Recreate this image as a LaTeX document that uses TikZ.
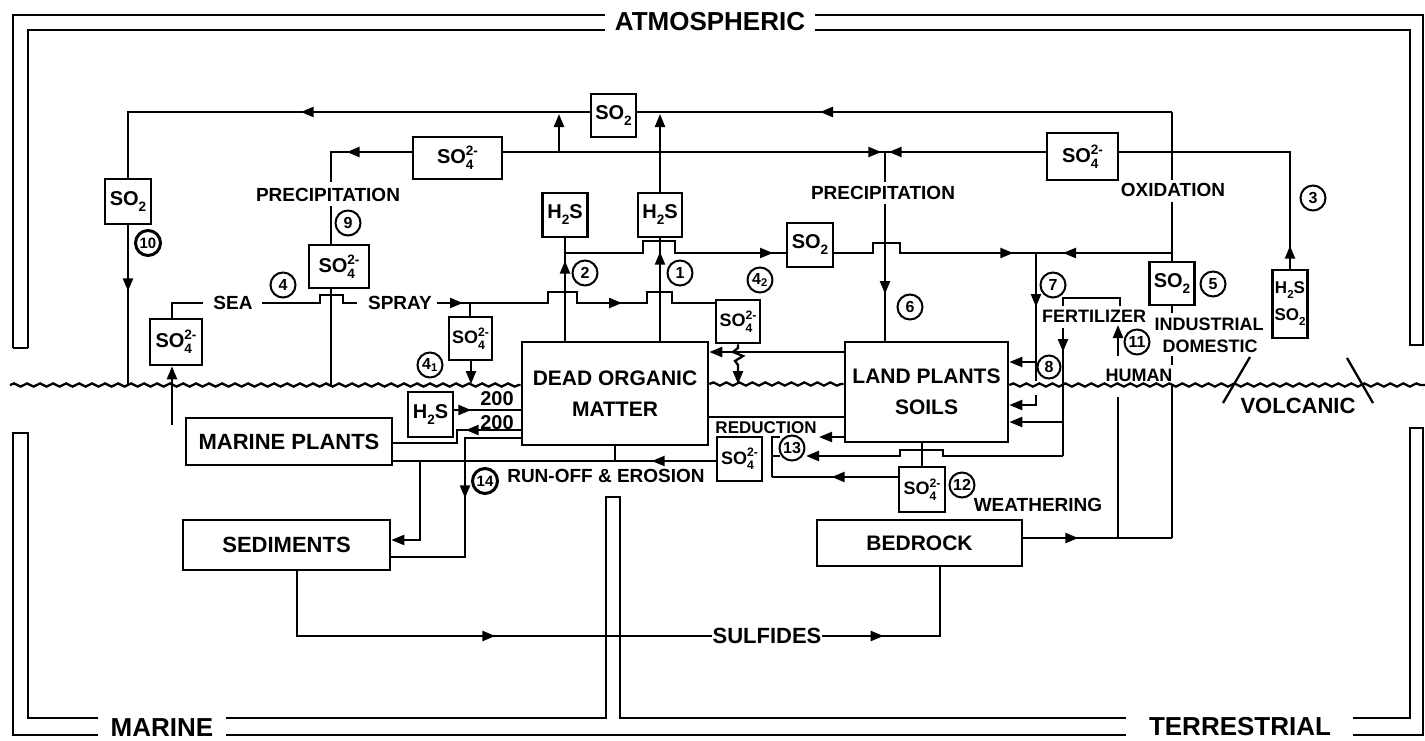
\documentclass[tikz,border=0pt]{standalone}
\usepackage{fontspec}
\setmainfont{Liberation Sans}
\usetikzlibrary{arrows.meta,decorations.pathmorphing,decorations.markings}
\newcommand\fsz[1]{\fontsize{#1}{#1}\selectfont}
\makeatletter
\newcommand\scr[1]{{\fontsize{\fpeval{0.68*\f@size}}{0}\selectfont #1}}
\makeatother
\newcommand\sulf{SO\raisebox{-0.3em}{\rlap{\scr{4}}}\raisebox{0.42em}{\scr{2-}}}
\newcommand\sodi{SO\raisebox{-0.3em}{\scr{2}}}
\newcommand\hys{H\raisebox{-0.3em}{\scr{2}}S}
\newcommand\zb[1]{\makebox[0pt]{#1}}
\tikzset{
  flow/.style={line width=2.3pt},
  tipend/.style={-{Triangle[length=13pt,width=10pt]}},
  ar/.style={postaction={decorate},decoration={markings,mark=at position #1 with {\arrow{Triangle[length=13pt,width=10pt]}}}},
  sz/.style 2 args={minimum width=#1pt,minimum height=#2pt},
  box/.style={draw,line width=2.6pt,inner sep=0pt,align=center,font=\bfseries\fsz{20}},
  big/.style={draw,line width=2.6pt,inner sep=0pt,align=center,font={\bfseries\fontsize{21}{31}\selectfont}},
  lab/.style={inner sep=0pt,font=\bfseries\fsz{19}},
  frlab/.style={inner sep=0pt,font=\bfseries\fsz{26}},
  num/.style={circle,draw,line width=2pt,minimum size=25pt,inner sep=0pt,font=\bfseries\fsz{16}},
  wave/.style={line width=2.3pt,decorate,decoration={snake,amplitude=1.6pt,segment length=13pt}},
  frm/.style={line width=2.3pt},
}
\begin{document}
\begin{tikzpicture}[x=1pt,y=-1pt]
\useasboundingbox (0,0) rectangle (1425,740);

% ---------------- frames ----------------
\node[frlab] (atm) at (710,22) {ATMOSPHERIC};
\node[frlab] (mar) at (162,728) {MARINE};
\node[frlab] (ter) at (1240,727) {TERRESTRIAL};
\draw[frm] (13,348) -- (13,15) -- (605,15);
\draw[frm] (28,348) -- (28,30) -- (605,30);
\draw[frm] (13,348) -- (28,348);
\draw[frm] (815,15) -- (1423,15) -- (1423,345) -- (1410,345) -- (1410,30) -- (815,30);
\draw[frm] (98,735) -- (13,735) -- (13,433) -- (28,433) -- (28,718) -- (98,718);
\draw[frm] (226,718) -- (606,718) -- (606,497) -- (620,497) -- (620,718) -- (1126,718);
\draw[frm] (226,735) -- (1126,735);
\draw[frm] (1353,718) -- (1410,718) -- (1410,428) -- (1423,428) -- (1423,735) -- (1353,735);

% ---------------- big boxes ----------------
\node[big,sz={186}{103}] (dom) at (615,393.5) {DEAD ORGANIC\\MATTER};
\node[big,sz={163}{100}] (land) at (926.5,392) {LAND PLANTS\\SOILS};
\node[big,sz={206}{47},font=\bfseries\fsz{22}] (mp) at (289,441.5) {MARINE PLANTS};
\node[big,sz={207}{50},font=\bfseries\fsz{22}] (sed) at (286.5,545) {SEDIMENTS};
\node[big,sz={205}{46}] (bed) at (919.5,543) {BEDROCK};

% ---------------- small boxes ----------------
\node[box,sz={45}{43}] (so2t) at (613.5,115.5) {\zb{\sodi}};
\node[box,sz={89}{42}] (s4L) at (457.5,158) {\zb{\sulf}};
\node[box,sz={71}{47}] (s4R) at (1082.5,156.5) {\zb{\sulf}};
\node[box,sz={46}{45}] (so2a) at (128,201.5) {\zb{\sodi}};
\node[box,sz={60}{43}] (s4p) at (339,266.5) {\zb{\sulf}};
\node[box,sz={45}{44}] (h2sb) at (565,215) {\zb{\hys}};
\node[box,sz={44}{44}] (h2sa) at (660,215) {\zb{\hys}};
\node[box,sz={46}{44}] (so2m) at (810,245) {\zb{\sodi}};
\node[box,sz={45}{43}] (so2i) at (1172,283.5) {\zb{\sodi}};
\node[box,sz={35}{68},font={\bfseries\fontsize{17}{27}\selectfont}] (volc) at (1290,304) {\zb{\hys}\\\zb{\sodi}};
\node[box,sz={52}{46}] (s4sea) at (176,342) {\zb{\sulf}};
\node[box,sz={43}{43},font=\bfseries\fsz{18}] (s4a) at (470.5,338.5) {\zb{\sulf}};
\node[box,sz={44}{43},font=\bfseries\fsz{18}] (s4b) at (738,321.5) {\zb{\sulf}};
\node[box,sz={45}{44},font=\bfseries\fsz{18}] (s4r) at (739.5,459) {\zb{\sulf}};
\node[box,sz={46}{45},font=\bfseries\fsz{18}] (s4w) at (922,489.5) {\zb{\sulf}};
\node[box,sz={45}{45}] (h2sm) at (430.5,414.5) {\zb{\hys}};

% ---------------- text labels ----------------
\node[lab] (precL) at (328,195) {PRECIPITATION};
\node[lab] (precR) at (883,193) {PRECIPITATION};
\node[lab] (oxi) at (1173,190) {OXIDATION};
\node[lab] (sea) at (233,303) {SEA};
\node[lab] (spray) at (400,303) {SPRAY};
\node[lab,font=\bfseries\fsz{18}] (fert) at (1094,316) {FERTILIZER};
\node[lab,font=\bfseries\fsz{18}] (indu) at (1209,324) {INDUSTRIAL};
\node[lab,font=\bfseries\fsz{18}] (dome) at (1210,346) {DOMESTIC};
\node[lab,font=\bfseries\fsz{18}] (hum) at (1139,375) {HUMAN};
\node[lab,font=\bfseries\fsz{22}] (volct) at (1298,406) {VOLCANIC};
\node[lab,font=\bfseries\fsz{17}] (redu) at (766,428) {REDUCTION};
\node[lab] (runoff) at (606,476) {RUN-OFF \& EROSION};
\node[lab] (weath) at (1038,505) {WEATHERING};
\node[lab,font=\bfseries\fsz{20}] (t200a) at (497,399) {200};
\node[lab,font=\bfseries\fsz{20}] (t200b) at (497,423) {200};
\node[lab,font=\bfseries\fsz{22}] (sulf) at (767,636) {SULFIDES};

% ---------------- circled numbers ----------------
\node[num] (n1) at (680,273) {1};
\node[num] (n2) at (585,273) {2};
\node[num] (n3) at (1313,198) {3};
\node[num] (n4) at (283,285) {4};
\node[num] (n41) at (430,365) {4\textsubscript{1}};
\node[num] (n42) at (760,280) {4\textsubscript{2}};
\node[num] (n5) at (1213,284) {5};
\node[num] (n6) at (910,307) {6};
\node[num] (n7) at (1053,285) {7};
\node[num,minimum size=23pt] (n8) at (1049,367) {8};
\node[num] (n9) at (348,223) {9};
\node[num,line width=3pt,font=\bfseries\fsz{15}] (n10) at (148,243) {10};
\node[num] (n11) at (1137,342) {11};
\node[num] (n12) at (962,485) {12};
\node[num] (n13) at (792,448) {13};
\node[num,line width=3pt,font=\bfseries\fsz{15}] (n14) at (485,481) {14};

% ---------------- surface ----------------
\draw[wave] (10,385) -- (dom.west |- 0,385);
\draw[wave] (dom.east |- 0,384) -- (land.west |- 0,384);
\draw[wave] (land.east |- 0,385) -- (1425,385);

% ---------------- helper coordinates ----------------
\coordinate (j1172t) at (1172,112);
\coordinate (j128t) at (128,112);
\coordinate (j559) at (559,152);
\coordinate (j559t) at (559,114);
\coordinate (j330) at (331,152);
\coordinate (j885) at (885,152);
\coordinate (j1290) at (1290,152);
\coordinate (j565m) at (565,253);
\coordinate (j1036) at (1036,253);
\coordinate (j1172m) at (1172,253);
\coordinate (j470) at (470,303);

% ---------------- atmospheric SO2 line ----------------
\draw[flow,ar=352pt] (j1172t) -- (so2t.east |- j1172t);
\draw[flow,ar=289pt] (so2t.west |- j1172t) -- (j128t) -- (so2a.north);
\draw[flow,ar=66pt] (so2a.south) -- (128,385);
\draw[flow] (j1172t) -- (1172,180);
\draw[flow] (1172,202) -- (so2i.north);

% ---------------- atmospheric SO4 line ----------------
\draw[flow,ar=65pt] (s4L.west |- j330) -- (j330) -- (331,182);
\draw[flow] (331,206) -- (s4p.north -| j330);
\draw[flow] (s4p.south -| j330) -- (331,385);
\draw[flow,ar=378pt] (s4L.east |- j885) -- (j885);
\draw[flow,ar=157pt] (s4R.west |- j885) -- (j885);
\draw[flow,tipend] (j559) -- (j559t);
\draw[flow] (j885) -- (885,182);
\draw[flow,ar=90pt] (885,204) -- (land.north -| j885);
\draw[flow,ar=23pt] (volc.north) -- (j1290) -- (s4R.east |- j1290);

% ---------------- H2S from dead organic matter ----------------
\draw[flow,ar=80pt] (dom.north -| h2sb) -- (h2sb.south);
\draw[flow,ar=89pt] (dom.north -| h2sa) -- (h2sa.south);
\draw[flow,tipend] (h2sa.north) -- (660,114);

% ---------------- SO2 middle line ----------------
\draw[flow,ar=232pt] (j565m) -- (643,253) -- (643,241) -- (675,241) -- (675,253) -- (so2m.west |- j565m);
\draw[flow,ar=199pt] (so2m.east |- j565m) -- (873,253) -- (873,243) -- (900,243) -- (900,253) -- (j1036);
\draw[flow,ar=109pt] (j1172m) -- (j1036);
\draw[flow,ar=54pt] (j1036) -- (1036,381);
\draw[flow,tipend] (1036,362) -- (land.east |- 0,362);
\draw[flow,tipend] (1036,395) -- (1036,405) -- (land.east |- 0,405);

% ---------------- fertilizer / human / industrial ----------------
\draw[flow] (1120,306) -- (1120,298) -- (1063,298) -- (1063,306);
\draw[flow,tipend] (1118,356) -- (1118,325);
\draw[flow,ar=24pt] (1063,328) -- (1063,456);
\draw[flow,tipend] (1063,422) -- (land.east |- 0,422);
\draw[flow] (so2i.south) -- (1172,313);
\draw[flow] (1172,356) -- (1172,365);
\draw[flow] (1172,384) -- (1172,538);
\draw[flow] (1118,397) -- (1118,538);
\draw[flow,ar=55pt] (bed.east |- 0,538) -- (1172,538);
\draw[flow] (1223,403) -- (1250,357);
\draw[flow] (1347,358) -- (1373,403);

% ---------------- land plants / soils exchanges ----------------
\draw[flow,tipend] (land.west |- 0,352) -- (dom.east |- 0,352);
\draw[flow,tipend] (s4b.south) -- (738,348) -- (733,352) -- (743,356) -- (735,361) -- (738,365) -- (738,384);
\draw[flow] (dom.east |- 0,417) -- (land.west |- 0,417);
\draw[flow,tipend] (land.west |- 0,437) -- (819,437);
\draw[flow,tipend] (1063,456) -- (943,456) -- (943,450) -- (900,450) -- (900,456) -- (806,456);
\draw[flow] (land.south -| s4w) -- (s4w.north);
\draw[flow] (780,437) -- (772,437) -- (772,477);
\draw[flow] (772,456) -- (780,456);
\draw[flow,ar=66pt] (s4w.west |- 0,477) -- (772,477);

% ---------------- sea spray ----------------
\draw[flow] (s4sea.north -| 172,0) -- (172,303) -- (203,303);
\draw[flow] (262,303) -- (320,303) -- (320,295) -- (343,295) -- (343,303) -- (357,303);
\draw[flow,ar=26pt] (437,303) -- (j470);
\draw[flow,ar=174pt] (j470) -- (548,303) -- (548,292) -- (577,292) -- (577,303) -- (647,303) -- (647,292) -- (672,292) -- (672,303) -- (s4b.west |- j470);
\draw[flow] (j470) -- (s4a.north -| j470);
\draw[flow,tipend] (s4a.south -| 471,0) -- (471,384);
\draw[flow,tipend] (172,425) -- (s4sea.south -| 172,0);

% ---------------- marine side ----------------
\draw[flow,ar=17pt] (h2sm.east |- 0,410) -- (dom.west |- 0,410);
\draw[flow,ar=55pt] (dom.west |- 0,430) -- (457,430) -- (457,443) -- (mp.east |- 0,443);
\draw[flow,ar=116pt] (dom.west |- 0,438) -- (465,438) -- (465,557) -- (sed.east |- 0,557);
\draw[flow,ar=64pt] (s4r.west |- 0,461) -- (mp.east |- 0,461);
\draw[flow] (dom.south) -- (615,461);
\draw[flow,tipend] (420,461) -- (420,540) -- (sed.east |- 0,540);

% ---------------- sulfides ----------------
\draw[flow,ar=263pt] (sed.south -| 297,0) -- (297,636) -- (sulf.west);
\draw[flow,ar=62pt] (sulf.east) -- (940,636) -- (bed.south -| 940,0);

\end{tikzpicture}
\end{document}
